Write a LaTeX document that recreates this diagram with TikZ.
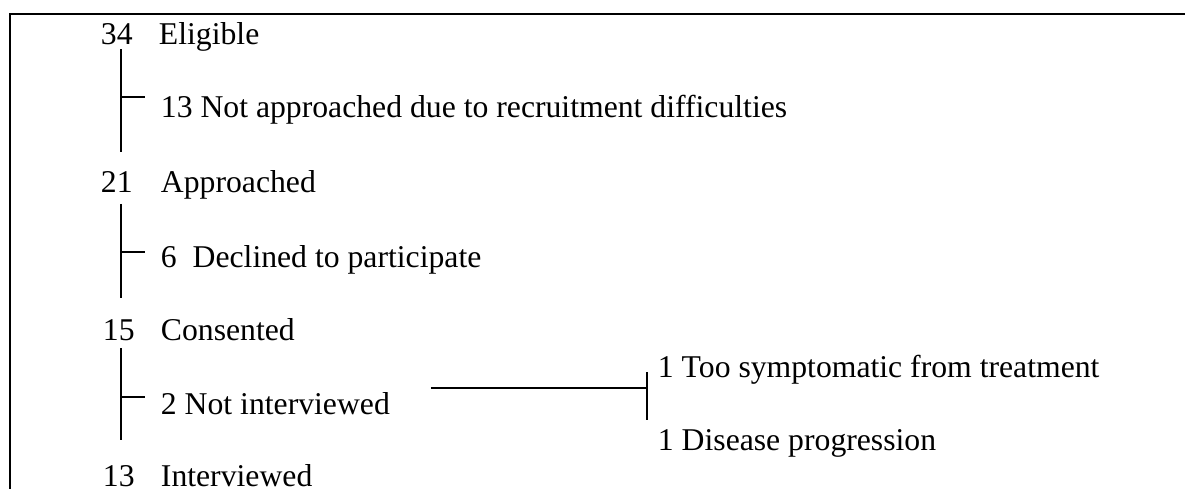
\documentclass[tikz,border=0pt]{standalone}
\usepackage{fontspec}
\setmainfont{Liberation Serif}
\usetikzlibrary{calc}

\begin{document}
\begin{tikzpicture}[x=1pt, y=-1pt, line width=1.9pt,
  txt/.style={inner sep=0pt, anchor=base west, font=\fontsize{31.7}{36}\selectfont},
  frame/.style={line width=1.3pt}]
  \useasboundingbox (0,0) rectangle (1185,489);
  \draw[frame] (10,489) -- (10,14) -- (1185,14);
  % main steps
  \node[txt] (n34) at (100,45) {34};
  \node[txt] (elig) at (158,45) {Eligible};
  \node[txt] (n21) at (100,193) {21};
  \node[txt] (appr) at (160,193) {Approached};
  \node[txt] (n15) at (102,340) {15};
  \node[txt] (cons) at (160,340) {Consented};
  \node[txt] (n13) at (102,486) {13};
  \node[txt] (intv) at (160,486) {Interviewed};
  % drop-outs
  \node[txt] (notapp) at (160,118) {13 Not approached due to recruitment difficulties};
  \node[txt] (decl) at (160,267) {6\ \ Declined to participate};
  \node[txt] (notint) at (160,414) {2 Not interviewed};
  \node[txt] (sympt) at (657,377) {1 Too symptomatic from treatment};
  \node[txt] (dis) at (657,450) {1 Disease progression};
  \coordinate (trunk) at (121,0);
  \draw ($(n34.south -| trunk)+(0,3)$) -- ($(n21.north -| trunk)+(0,-19)$);
  \draw ($(n21.south -| trunk)+(0,10)$) -- ($(n15.north -| trunk)+(0,-20)$);
  \draw ($(n15.south -| trunk)+(0,7)$) -- ($(n13.north -| trunk)+(0,-24)$);
  \coordinate (k1) at ($(notapp.base west)+(-15,-21)$);
  \coordinate (k2) at ($(decl.base west)+(-15,-15)$);
  \coordinate (k3) at ($(notint.base west)+(-15,-17)$);
  \draw (k1 -| trunk) -- (k1);
  \draw (k2 -| trunk) -- (k2);
  \draw (k3 -| trunk) -- (k3);
  \coordinate (bartop) at ($(sympt.base west)+(-10,-5)$);
  \coordinate (barbot) at ($(dis.base west)+(-10,-30)$);
  \draw[line width=1.4pt] (bartop) -- (barbot);
  \coordinate (hl) at ($(notint.base east)+(40,-26)$);
  \draw (hl) -- (hl -| bartop);
\end{tikzpicture}
\end{document}
